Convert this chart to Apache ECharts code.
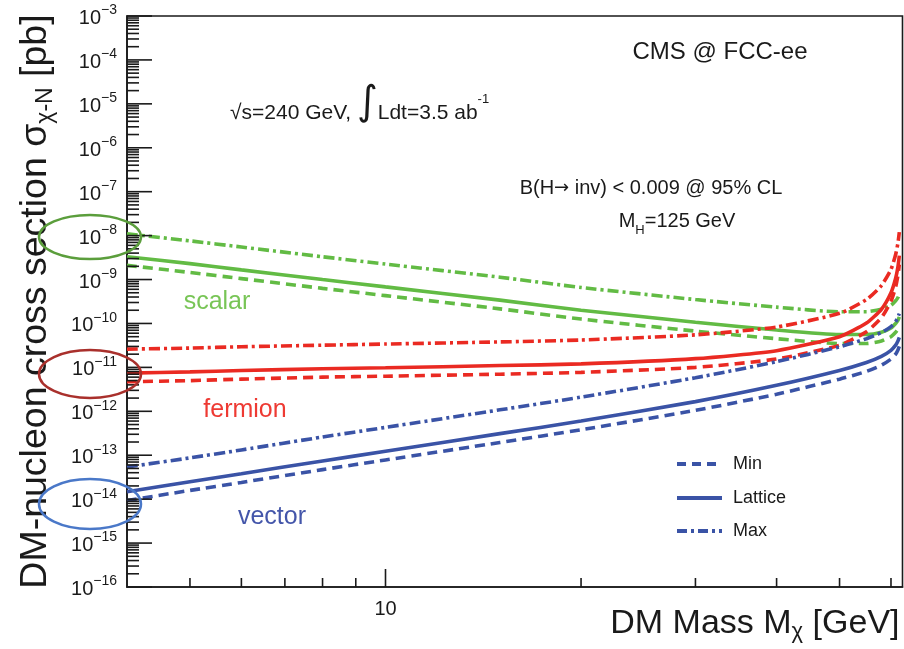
<!DOCTYPE html>
<html>
<head>
<meta charset="utf-8">
<title>DM-nucleon cross section vs DM mass</title>
<script src="https://cdn.jsdelivr.net/npm/echarts@6/dist/echarts.min.js"></script>
<style>
  html, body { margin: 0; padding: 0; background: #fff; }
  #main { width: 904px; height: 649px; }
</style>
</head>
<body>
<div id="main"></div>
<script>
// DM mass points [GeV]
var mass = [4, 5, 6, 8, 10, 15, 20, 30, 40, 50, 55, 58, 60, 61, 61.5, 61.8];

// cross sections [pb]
var scalarMin     = [2.1e-9, 1.45e-9, 1.05e-9, 6.3e-10, 4.3e-10, 2.15e-10, 1.26e-10, 6.7e-11, 4.5e-11, 3.5e-11, 3.5e-11, 4.0e-11, 5.0e-11, 6.3e-11, 7.4e-11, 8.9e-11];
var scalarLattice = [3.3e-9, 2.3e-9, 1.66e-9, 1.0e-9, 6.8e-10, 3.4e-10, 2.0e-10, 1.07e-10, 7.1e-11, 5.6e-11, 5.6e-11, 6.3e-11, 7.9e-11, 1.0e-10, 1.17e-10, 1.41e-10];
var scalarMax     = [1.1e-8, 7.6e-9, 5.5e-9, 3.3e-9, 2.25e-9, 1.13e-9, 6.6e-10, 3.5e-10, 2.35e-10, 1.85e-10, 1.85e-10, 2.1e-10, 2.6e-10, 3.3e-10, 3.9e-10, 4.7e-10];

var fermionMin     = [4.7e-12, 5.0e-12, 5.4e-12, 6.0e-12, 6.3e-12, 7.0e-12, 7.7e-12, 1.0e-11, 1.55e-11, 3.2e-11, 6.5e-11, 1.35e-10, 3.2e-10, 6.8e-10, 1.25e-9, 2.2e-9];
var fermionLattice = [7.4e-12, 7.9e-12, 8.5e-12, 9.3e-12, 9.8e-12, 1.1e-11, 1.2e-11, 1.58e-11, 2.4e-11, 5.0e-11, 1.02e-10, 2.1e-10, 5.0e-10, 1.07e-9, 1.95e-9, 3.5e-9];
var fermionMax     = [2.6e-11, 2.75e-11, 2.95e-11, 3.2e-11, 3.4e-11, 3.8e-11, 4.2e-11, 5.5e-11, 8.3e-11, 1.7e-10, 3.5e-10, 7.3e-10, 1.7e-9, 3.7e-9, 6.8e-9, 1.2e-8];

var vectorMin     = [9.3e-15, 1.58e-14, 2.4e-14, 4.7e-14, 7.8e-14, 1.95e-13, 3.8e-13, 1.05e-12, 2.45e-12, 5.4e-12, 8.1e-12, 1.12e-11, 1.55e-11, 2.0e-11, 2.5e-11, 3.0e-11];
var vectorLattice = [1.48e-14, 2.5e-14, 3.8e-14, 7.4e-14, 1.23e-13, 3.1e-13, 6.0e-13, 1.66e-12, 3.9e-12, 8.5e-12, 1.29e-11, 1.78e-11, 2.45e-11, 3.2e-11, 4.0e-11, 4.8e-11];
var vectorMax     = [5.4e-14, 8.7e-14, 1.32e-13, 2.6e-13, 4.3e-13, 1.08e-12, 2.1e-12, 5.8e-12, 1.35e-11, 2.95e-11, 4.5e-11, 6.2e-11, 8.5e-11, 1.1e-10, 1.4e-10, 1.67e-10];

// axis ticks
var xMajorTicks = [10];
var xMinorTicks = [5, 6, 7, 8, 9, 20, 30, 40, 50, 60];
var xLabels = [10];
var yDecades = [-16, -15, -14, -13, -12, -11, -10, -9, -8, -7, -6, -5, -4, -3];
var yMinorSteps = [2, 3, 4, 5, 6, 7, 8, 9];

var green = '#62bb44', red = '#ea2a22', blue = '#3a53a6';
var FONT = '"Liberation Sans", Arial, Helvetica, sans-serif';
var DASH = [10, 6];
var DASHDOT = [11, 4, 3, 4];

function pairs(vals) {
  return mass.map(function (m, i) { return [m, vals[i]]; });
}

function curve(name, vals, color, type) {
  return {
    name: name,
    type: 'line',
    data: pairs(vals),
    showSymbol: false,
    smooth: 0.2,
    lineStyle: { color: color, width: 3.6, type: type },
    itemStyle: { color: color },
    z: 3
  };
}

// tick marks: [x, y, length, 0 = x-axis / 1 = y-axis]
var tickData = [];
xMajorTicks.forEach(function (v) { tickData.push([v, 1e-16, 18, 0]); });
xMinorTicks.forEach(function (v) { tickData.push([v, 1e-16, 9, 0]); });
yDecades.forEach(function (e) {
  tickData.push([4, Math.pow(10, e), 25, 1]);
  if (e < -3) {
    yMinorSteps.forEach(function (k) { tickData.push([4, k * Math.pow(10, e), 12, 1]); });
  }
});

function renderTick(params, api) {
  var p = api.coord([api.value(0), api.value(1)]);
  var len = api.value(2);
  var shape = api.value(3) === 0
    ? { x1: p[0], y1: p[1], x2: p[0], y2: p[1] - len }
    : { x1: p[0], y1: p[1], x2: p[0] + len, y2: p[1] };
  return { type: 'line', shape: shape, style: { stroke: '#1a1a1a', lineWidth: 1.6 } };
}

var chart = echarts.init(document.getElementById('main'));

var option = {
  animation: false,
  backgroundColor: '#fff',
  grid: {
    left: 127, right: 1.5, top: 16, bottom: 62,
    show: true, borderColor: '#1a1a1a', borderWidth: 1.6,
    outerBoundsMode: 'none'
  },
  xAxis: {
    type: 'log',
    min: 4,
    max: 62.5,
    name: 'DM Mass M{sub|χ} [GeV]',
    nameLocation: 'end',
    nameGap: -3,
    nameTextStyle: {
      fontFamily: FONT, fontSize: 34, color: '#1a1a1a',
      align: 'right', verticalAlign: 'top', padding: [18, 0, 0, 0],
      rich: { sub: { fontFamily: FONT, fontSize: 22, color: '#1a1a1a', padding: [16, 0, 0, 0] } }
    },
    axisLine: { show: true, lineStyle: { color: '#1a1a1a', width: 1.6 } },
    axisTick: { show: false },
    splitLine: { show: false },
    axisLabel: {
      margin: 12,
      fontFamily: FONT, fontSize: 20, color: '#1a1a1a',
      formatter: function (v) {
        for (var i = 0; i < xLabels.length; i++) {
          if (Math.abs(v - xLabels[i]) < 1e-6) return String(xLabels[i]);
        }
        return '';
      }
    }
  },
  yAxis: {
    type: 'log',
    min: 1e-16,
    max: 1e-3,
    interval: 1,
    name: 'DM-nucleon cross section σ{sub|χ-N} [pb]',
    nameLocation: 'middle',
    nameGap: 70,
    nameTextStyle: {
      fontFamily: FONT, fontSize: 37.5, color: '#1a1a1a',
      rich: { sub: { fontFamily: FONT, fontSize: 23, color: '#1a1a1a', padding: [19, 0, 0, 0] } }
    },
    axisLine: { show: true, lineStyle: { color: '#1a1a1a', width: 1.6 } },
    axisTick: { show: false },
    splitLine: { show: false },
    axisLabel: {
      margin: 10,
      color: '#1a1a1a',
      formatter: function (v) {
        var e = Math.round(Math.log10(v));
        return '{b|10}{s|' + (e < 0 ? '−' : '') + Math.abs(e) + '}';
      },
      rich: {
        b: { fontFamily: FONT, fontSize: 20, color: '#1a1a1a', verticalAlign: 'bottom' },
        s: { fontFamily: FONT, fontSize: 14, color: '#1a1a1a', verticalAlign: 'top', padding: [0, 0, 11, 0] }
      }
    }
  },
  series: [
    curve('scalar Min', scalarMin, green, DASH),
    curve('scalar Max', scalarMax, green, DASHDOT),
    curve('scalar Lattice', scalarLattice, green, 'solid'),
    curve('fermion Min', fermionMin, red, DASH),
    curve('fermion Max', fermionMax, red, DASHDOT),
    curve('fermion Lattice', fermionLattice, red, 'solid'),
    curve('vector Min', vectorMin, blue, DASH),
    curve('vector Max', vectorMax, blue, DASHDOT),
    curve('vector Lattice', vectorLattice, blue, 'solid'),
    {
      name: 'ticks',
      type: 'custom',
      data: tickData,
      renderItem: renderTick,
      silent: true,
      z: 5
    }
  ],
  graphic: [
    // circled reference points
    { type: 'ellipse', shape: { cx: 90, cy: 237, rx: 51, ry: 22 }, style: { fill: 'none', stroke: '#5b9e3c', lineWidth: 2.5 }, z: 10 },
    { type: 'ellipse', shape: { cx: 90, cy: 374, rx: 51, ry: 24 }, style: { fill: 'none', stroke: '#a9302c', lineWidth: 2.5 }, z: 10 },
    { type: 'ellipse', shape: { cx: 90, cy: 504, rx: 51, ry: 25 }, style: { fill: 'none', stroke: '#4a78c8', lineWidth: 2.5 }, z: 10 },

    { type: 'text', z: 10, style: { text: 'CMS @ FCC-ee', x: 720, y: 52, font: '24px ' + FONT, fill: '#1a1a1a', align: 'center', verticalAlign: 'middle' } },
    { type: 'text', z: 10, style: {
        text: '{t|√s=240 GeV, }{i|∫}{t|Ldt=3.5 ab}{u|-1}', x: 230, y: 104, align: 'left', verticalAlign: 'middle',
        rich: {
          t: { font: '21px ' + FONT, fill: '#1a1a1a', verticalAlign: 'bottom' },
          i: { font: '40px "DejaVu Sans", sans-serif', fill: '#1a1a1a', verticalAlign: 'bottom' },
          u: { font: '13px ' + FONT, fill: '#1a1a1a', verticalAlign: 'top', padding: [9, 0, 0, 0] }
        } } },
    { type: 'text', z: 10, style: {
        text: '{t|B(H}{a|→}{t| inv) < 0.009 @ 95% CL}', x: 651, y: 188, align: 'center', verticalAlign: 'middle',
        rich: {
          t: { font: '20px ' + FONT, fill: '#1a1a1a' },
          a: { font: '18px "DejaVu Sans", sans-serif', fill: '#1a1a1a' }
        } } },
    { type: 'text', z: 10, style: {
        text: '{t|M}{s|H}{t|=125 GeV}', x: 677, y: 224, align: 'center', verticalAlign: 'middle',
        rich: {
          t: { font: '20px ' + FONT, fill: '#1a1a1a', verticalAlign: 'top' },
          s: { font: '13px ' + FONT, fill: '#1a1a1a', verticalAlign: 'bottom', padding: [12, 0, 0, 0] }
        } } },

    { type: 'text', z: 10, style: { text: 'scalar', x: 217, y: 302, font: '25px ' + FONT, fill: '#78c556', align: 'center', verticalAlign: 'middle' } },
    { type: 'text', z: 10, style: { text: 'fermion', x: 245, y: 410, font: '25px ' + FONT, fill: '#ee3a33', align: 'center', verticalAlign: 'middle' } },
    { type: 'text', z: 10, style: { text: 'vector', x: 272, y: 517, font: '25px ' + FONT, fill: '#4456aa', align: 'center', verticalAlign: 'middle' } },

    // line-style key
    { type: 'line', z: 10, shape: { x1: 677, y1: 464, x2: 722, y2: 464 }, style: { stroke: blue, lineWidth: 4, lineDash: [9, 6] } },
    { type: 'line', z: 10, shape: { x1: 677, y1: 498, x2: 722, y2: 498 }, style: { stroke: blue, lineWidth: 4 } },
    { type: 'line', z: 10, shape: { x1: 677, y1: 531, x2: 722, y2: 531 }, style: { stroke: blue, lineWidth: 4, lineDash: [10, 4, 3, 4] } },
    { type: 'text', z: 10, style: { text: 'Min', x: 733, y: 464, font: '18px ' + FONT, fill: '#1a1a1a', align: 'left', verticalAlign: 'middle' } },
    { type: 'text', z: 10, style: { text: 'Lattice', x: 733, y: 498, font: '18px ' + FONT, fill: '#1a1a1a', align: 'left', verticalAlign: 'middle' } },
    { type: 'text', z: 10, style: { text: 'Max', x: 733, y: 531, font: '18px ' + FONT, fill: '#1a1a1a', align: 'left', verticalAlign: 'middle' } }
  ]
};

chart.setOption(option);
</script>
</body>
</html>
